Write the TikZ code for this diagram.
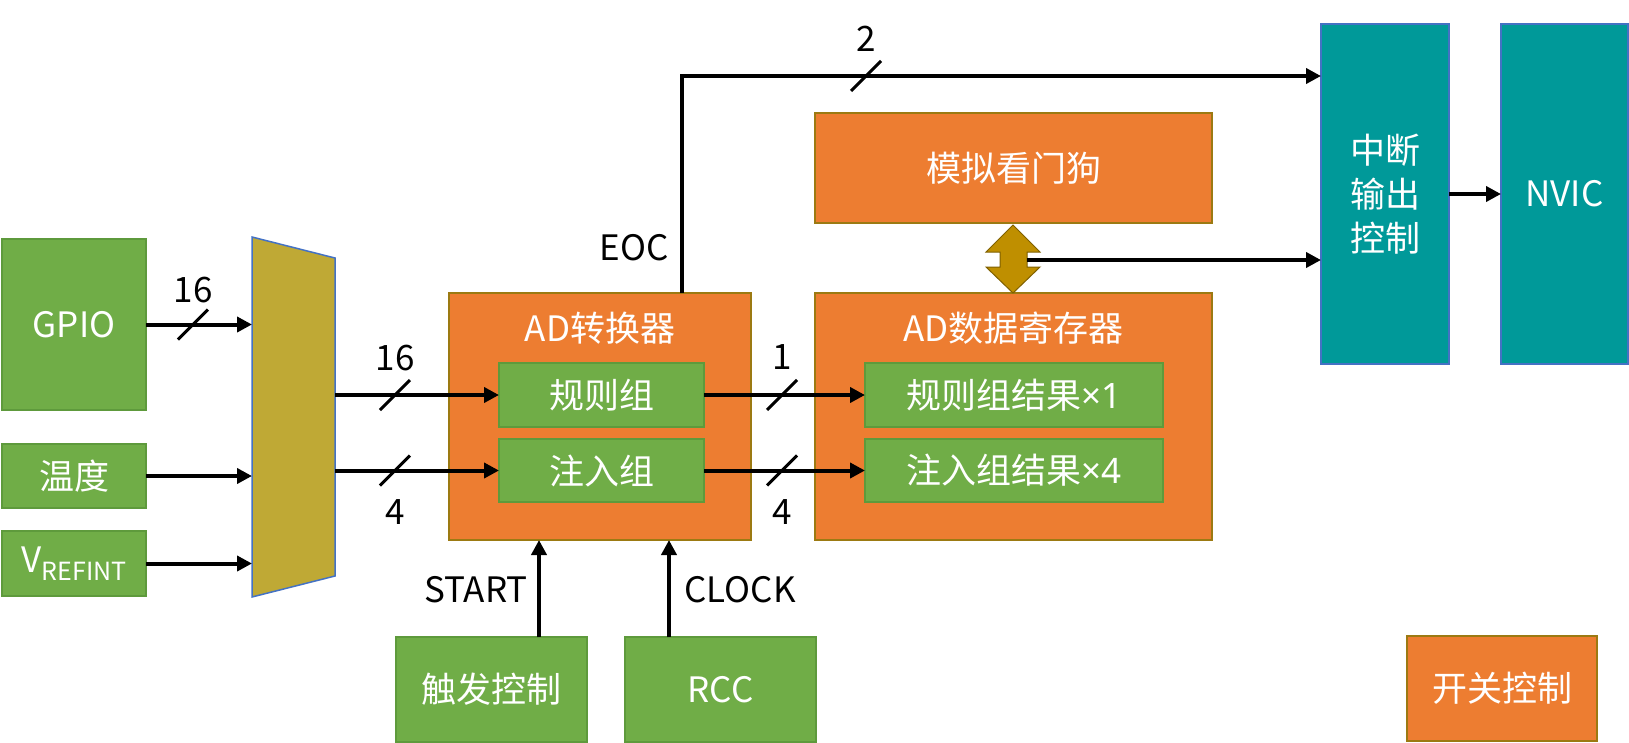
\documentclass[tikz,border=0pt]{standalone}
\usepackage{fontspec}
\setmainfont{Noto Sans CJK SC}
\newfontfamily\latinf{Noto Sans}
\usetikzlibrary{arrows.meta}
\definecolor{gr}{HTML}{70AD47}
\definecolor{grb}{HTML}{5E9A3C}
\definecolor{orf}{HTML}{ED7D31}
\definecolor{orb}{HTML}{9C7A12}
\definecolor{tl}{HTML}{009999}
\definecolor{bl}{HTML}{4472C4}
\definecolor{mx}{HTML}{BFA935}
\definecolor{da}{HTML}{BF8F00}
\definecolor{dab}{HTML}{7F6000}
\newcommand{\bigf}{\fontsize{35}{46}\selectfont}
\begin{document}
\begin{tikzpicture}[x=1pt,y=-1pt,
  sz/.style 2 args={minimum width=#1pt, minimum height=#2pt, inner sep=0pt, outer sep=0pt},
  base/.style={draw, line width=1.5pt, text=white, font=\bigf, align=center},
  gbox/.style={base, fill=gr, draw=grb},
  obox/.style={base, fill=orf, draw=orb},
  tbox/.style={base, fill=tl, draw=bl},
  arr/.style={line width=4pt, -{Triangle[length=15pt,width=15pt]}},
  sl/.style={line width=3pt},
  lbl/.style={font=\bigf, text=black, inner sep=0pt}]
\useasboundingbox (0,0) rectangle (1629,742);

% left sources
\node[gbox, sz={144}{171}] (gpio) at (74,324.5) {GPIO};
\node[gbox, sz={144}{64}] (temp) at (74,476) {温度};
\node[gbox, sz={144}{65}] (vref) at (74,563.5) {V\raisebox{-8pt}{\fontsize{25}{25}\selectfont REFINT}};

% multiplexer
\node[sz={83}{360}] (mux) at (293.5,417) {};
\draw[fill=mx, draw=bl, line width=1.5pt] (252,237) -- (335,258) -- (335,576) -- (252,597) -- cycle;

% ADC
\node[obox, sz={302}{247}] (adc) at (600,416.5) {};
\node[lbl, text=white] (adct) at (600,328) {AD转换器};
\node[gbox, sz={205}{64}] (rule) at (601.5,395) {规则组};
\node[gbox, sz={205}{63}] (inj) at (601.5,470.5) {注入组};

% data register
\node[obox, sz={397}{247}] (reg) at (1013.5,416.5) {};
\node[lbl, text=white] (regt) at (1013.5,328) {AD数据寄存器};
\node[gbox, sz={298}{64}] (ruleres) at (1014,395) {规则组结果{\latinf ×1}};
\node[gbox, sz={298}{63}] (injres) at (1014,470.5) {注入组结果{\latinf ×4}};

% watchdog
\node[obox, sz={397}{110}] (wd) at (1013.5,168) {模拟看门狗};

% interrupt and NVIC
\node[tbox, sz={128}{340}] (int) at (1385,194) {中断\\[-2pt]输出\\[-2pt]控制};
\node[tbox, sz={127}{340}] (nvic) at (1564.5,194) {NVIC};

% bottom sources
\node[gbox, sz={191}{105}] (trig) at (491.5,689.5) {触发控制};
\node[gbox, sz={191}{105}] (rcc) at (720.5,689.5) {RCC};
\node[obox, sz={190}{105}] (sw) at (1502,688.5) {开关控制};

% connectors: sources to mux
\draw[arr] (gpio.east) -- (gpio.east -| mux.west);
\draw[arr] (temp.east) -- (temp.east -| mux.west);
\draw[arr] (vref.east) -- (vref.east -| mux.west);
\coordinate (s1) at (193,324.5);
\draw[sl] (s1) +(-15,15) -- +(15,-15);
\node[lbl] at (193,290) {16};

% mux to ADC
\draw[arr] (mux.east |- rule.west) -- (rule.west);
\draw[arr] (mux.east |- inj.west) -- (inj.west);
\coordinate (s2) at (395,395);
\coordinate (s3) at (395,470.5);
\draw[sl] (s2) +(-15,15) -- +(15,-15);
\draw[sl] (s3) +(-15,15) -- +(15,-15);
\node[lbl] at (395,358) {16};
\node[lbl] at (395,512) {4};

% ADC to register
\draw[arr] (rule.east) -- (ruleres.west);
\draw[arr] (inj.east) -- (injres.west);
\coordinate (s4) at (782,395);
\coordinate (s5) at (782,470.5);
\draw[sl] (s4) +(-15,15) -- +(15,-15);
\draw[sl] (s5) +(-15,15) -- +(15,-15);
\node[lbl] at (782,357) {1};
\node[lbl] at (782,512) {4};

% EOC
\coordinate (eoc) at (682,293);
\draw[arr] (eoc) |- ([yshift=118pt]int.west);
\coordinate (s6) at (866,76);
\draw[sl] (s6) +(-15,15) -- +(15,-15);
\node[lbl] at (866,39) {2};
\node[lbl] at (634,248) {EOC};

% double arrow between watchdog and register
\draw[fill=da, draw=dab, line width=1pt] (1013,225) -- (1040,252) -- (1027,252) -- (1027,267) -- (1040,267) -- (1013,293) -- (986,267) -- (1000,267) -- (1000,252) -- (986,252) -- cycle;
\coordinate (dar) at (1027,260);
\draw[arr] (dar) -- (dar -| int.west);

% interrupt to NVIC
\draw[arr] (int.east) -- (nvic.west);

% START / CLOCK
\coordinate (sx) at (539,0);
\coordinate (cx) at (669,0);
\draw[arr] (trig.north -| sx) -- (adc.south -| sx);
\draw[arr] (rcc.north -| cx) -- (adc.south -| cx);
\node[lbl] at (476,590) {START};
\node[lbl] at (740,590) {CLOCK};
\end{tikzpicture}
\end{document}
